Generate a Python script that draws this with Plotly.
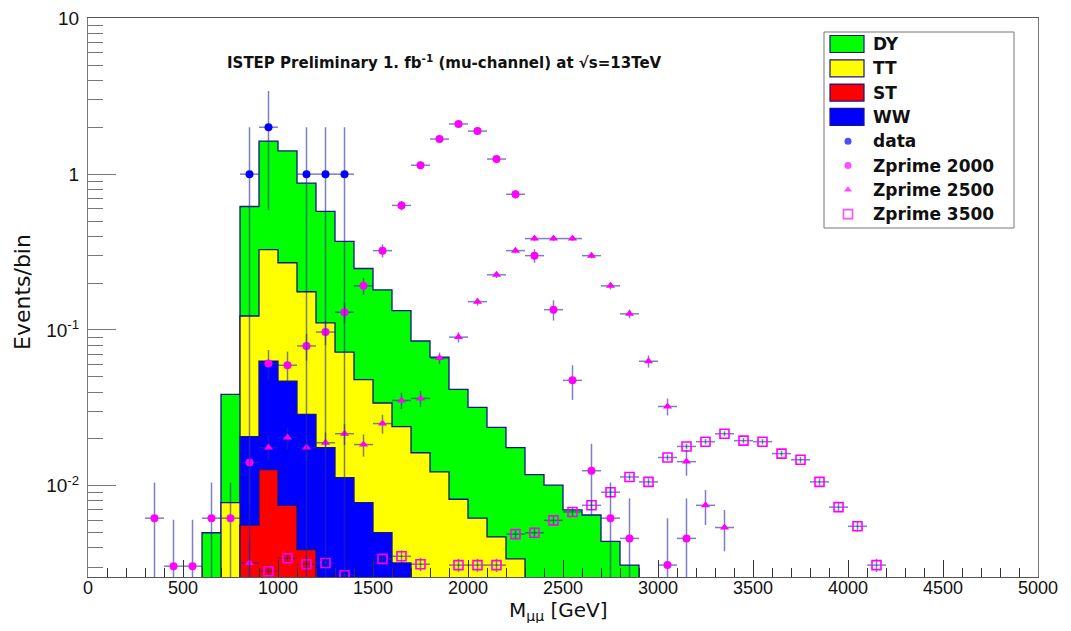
import numpy as np
import plotly.graph_objects as go

# ---------------- data ----------------
bin_width = 100.0
mass_bins = [650, 750, 850, 950, 1050, 1150, 1250, 1350, 1450, 1550, 1650, 1750,
             1850, 1950, 2050, 2150, 2250, 2350, 2450, 2550, 2650, 2750, 2850]

dy_vals = [0.0050, 0.0308, 0.497, 1.302, 1.14, 0.699, 0.466, 0.298, 0.200, 0.147, 0.109, 0.0687,
           0.0547, 0.0334, 0.0257, 0.0190, 0.0142, 0.0118, 0.0101, 0.0070, 0.0065, 0.0044, 0.0031]
tt_vals = [0.0, 0.0078, 0.1023, 0.265, 0.2231, 0.1473, 0.0934, 0.0607, 0.0402, 0.0290, 0.0208, 0.0163,
           0.0123, 0.0082, 0.0062, 0.0047, 0.0034, 0.0, 0.0, 0.0, 0.0, 0.0, 0.0]
ww_vals = [0.0, 0.0, 0.0151, 0.0503, 0.0394, 0.0248, 0.0176, 0.0113, 0.0078, 0.0050, 0.0032, 0.0,
           0.0, 0.0, 0.0, 0.0, 0.0, 0.0, 0.0, 0.0, 0.0, 0.0, 0.0]
st_vals = [0.0, 0.0, 0.0056, 0.0127, 0.0075, 0.0039, 0.0, 0.0, 0.0, 0.0, 0.0, 0.0,
           0.0, 0.0, 0.0, 0.0, 0.0, 0.0, 0.0, 0.0, 0.0, 0.0, 0.0]

data_mass = [850, 950, 1150, 1250, 1350]
data_vals = [1.0, 2.0, 1.0, 1.0, 1.0]
data_errs = [1.0, 1.414, 1.0, 1.0, 1.0]

zp2000_mass = [350, 450, 550, 650, 750, 850, 950, 1050, 1150, 1250, 1350, 1450, 1550, 1650,
               1750, 1850, 1950, 2050, 2150, 2250, 2350, 2450, 2550, 2650, 2750, 2850, 3050, 3150]
zp2000_vals = [0.0062, 0.00305, 0.00305, 0.0062, 0.0062, 0.0141, 0.061, 0.0594, 0.079, 0.097, 0.13,
               0.192, 0.323, 0.63, 1.14, 1.68, 2.10, 1.89, 1.25, 0.743, 0.30, 0.135, 0.0475,
               0.0125, 0.0062, 0.0046, 0.0031, 0.0046]
zp2000_errs = [0.0043, 0.0030, 0.0030, 0.0043, 0.0043, 0.0065, 0.0135, 0.0133, 0.0154, 0.0171, 0.0197,
               0.024, 0.0311, 0.0435, 0.0585, 0.071, 0.079, 0.075, 0.061, 0.047, 0.030, 0.020, 0.0119,
               0.0061, 0.0043, 0.0037, 0.0031, 0.0037]

zp2500_mass = [850, 950, 1050, 1150, 1250, 1350, 1450, 1550, 1650, 1750, 1850, 1950, 2050, 2150,
               2250, 2350, 2450, 2550, 2650, 2750, 2850, 2950, 3050, 3150, 3250, 3350]
zp2500_vals = [0.0032, 0.0176, 0.0204, 0.0176, 0.0189, 0.0216, 0.0184, 0.0251, 0.0353, 0.0364, 0.066,
               0.090, 0.152, 0.226, 0.323, 0.386, 0.386, 0.386, 0.30, 0.192, 0.127, 0.063, 0.0323,
               0.0143, 0.0075, 0.0054]
zp2500_errs = [0.0013, 0.0030, 0.0032, 0.0030, 0.0031, 0.0033, 0.0030, 0.0035, 0.0042, 0.0043, 0.0057,
               0.0067, 0.0087, 0.0106, 0.0127, 0.0139, 0.0139, 0.0139, 0.0122, 0.0098, 0.0080, 0.0056,
               0.0040, 0.0027, 0.0019, 0.0016]

zp3500_mass = [950, 1050, 1150, 1250, 1350, 1550, 1650, 1750, 1950, 2050, 2150, 2250, 2350, 2450,
               2550, 2650, 2750, 2850, 2950, 3050, 3150, 3250, 3350, 3450, 3550, 3650, 3750, 3850,
               3950, 4050, 4150]
zp3500_vals = [0.00283, 0.00343, 0.00314, 0.0032, 0.00267, 0.0034, 0.00353, 0.00314, 0.0031, 0.0031,
               0.0031, 0.0049, 0.0050, 0.0060, 0.0068, 0.0075, 0.0091, 0.0114, 0.0106, 0.0152, 0.0179,
               0.0192, 0.0216, 0.0195, 0.0192, 0.0161, 0.0147, 0.0106, 0.0073, 0.0055, 0.0031]
zp3500_errs = [0.00029, 0.00032, 0.00031, 0.00031, 0.00028, 0.00032, 0.00033, 0.00031, 0.00030, 0.00030,
               0.00030, 0.00038, 0.00039, 0.00042, 0.00045, 0.00047, 0.00052, 0.00058, 0.00056, 0.00068,
               0.00073, 0.00076, 0.00080, 0.00076, 0.00076, 0.00069, 0.00066, 0.00056, 0.00047, 0.00041,
               0.00030]

x_tick_vals = [0, 500, 1000, 1500, 2000, 2500, 3000, 3500, 4000, 4500, 5000]
y_tick_vals = [0.01, 0.1, 1, 10]
y_tick_text = ["10<sup>-2</sup>", "10<sup>-1</sup>", "1", "10"]

legend_fill_names = ["DY", "TT", "ST", "WW"]
legend_fill_colors = ["#00ff00", "#ffff00", "#ff0000", "#0000ff"]
legend_marker_names = ["data", "Zprime 2000", "Zprime 2500", "Zprime 3500"]

# ---------------- styling ----------------
FONT = "Liberation Sans, Arial, Helvetica, sans-serif"
WIDE = "DejaVu Sans, Verdana, sans-serif"
NAVY = "#14148c"
ERR = "rgba(40,40,160,0.6)"
MAG = "#ff00ff"
Y_MIN = 0.0026
Y_MAX = 10.0
FLOOR = 1e-5

# the page body has an 8px margin: figure is placed at (8, 8) in the window
OFF = 8
W, H = 1071 - 2 * OFF, 631 - 2 * OFF
# plot frame in window pixels
PX0, PX1, PY0, PY1 = 88, 1038, 18, 577
L, R = PX0 - OFF, (W + OFF) - PX1
T, B = PY0 - OFF, (H + OFF) - PY1


def px2paper(x, y):
    return (x - PX0) / (PX1 - PX0), (PY1 - y) / (PY1 - PY0)


def step_polygon(centers, heights, width, floor):
    xs, ys = [centers[0] - width / 2], [floor]
    for c, h in zip(centers, heights):
        hv = h if h > 0 else floor
        xs += [c - width / 2, c + width / 2]
        ys += [hv, hv]
    xs.append(centers[-1] + width / 2)
    ys.append(floor)
    xs.append(xs[0])
    ys.append(floor)
    return xs, ys


st = np.array(st_vals)
ww = np.array(ww_vals)
tt = np.array(tt_vals)
dy = np.array(dy_vals)
layers = [  # outermost first
    ("DY", st + ww + tt + dy, "#00ff00"),
    ("TT", st + ww + tt, "#ffff00"),
    ("WW", st + ww, "#0000ff"),
    ("ST", st, "#ff0000"),
]

fig = go.Figure()
for name, h, col in layers:
    xs, ys = step_polygon(mass_bins, h, bin_width, FLOOR)
    fig.add_trace(go.Scatter(
        x=xs, y=ys, mode="lines", fill="toself", fillcolor=col,
        line=dict(color=NAVY, width=1.3), name=name, showlegend=False, hoverinfo="skip"))


def point_trace(name, xs, ys, errs, symbol, color, size=8, line_w=0):
    return go.Scatter(
        x=xs, y=ys, mode="markers", name=name, showlegend=False,
        marker=dict(symbol=symbol, size=size, color=color, line=dict(width=line_w, color=color)),
        error_y=dict(type="data", array=errs, color=ERR, thickness=1.5, width=0),
        error_x=dict(type="constant", value=bin_width / 2, color=ERR, thickness=1.5, width=0),
    )


fig.add_trace(point_trace("Zprime 3500", zp3500_mass, zp3500_vals, zp3500_errs, "square-open", MAG, size=9, line_w=1.6))
fig.add_trace(point_trace("Zprime 2500", zp2500_mass, zp2500_vals, zp2500_errs, "triangle-up", MAG, size=8))
fig.add_trace(point_trace("Zprime 2000", zp2000_mass, zp2000_vals, zp2000_errs, "circle", MAG, size=8))
fig.add_trace(point_trace("data", data_mass, data_vals, data_errs, "circle", "#0000ff", size=8))

# ---------------- hand-drawn legend (ROOT TLegend look) ----------------
shapes = []
annotations = []
bx0, by0 = px2paper(824, 228)
bx1, by1 = px2paper(1014, 32)
shapes.append(dict(type="rect", xref="paper", yref="paper", x0=bx0, y0=by0, x1=bx1, y1=by1,
                   line=dict(color="#777777", width=1), fillcolor="white", layer="below"))
row_y = [44 + 24.3 * i for i in range(8)]
for i, (nm, col) in enumerate(zip(legend_fill_names, legend_fill_colors)):
    sx0, sy0 = px2paper(830, row_y[i] + 8.5)
    sx1, sy1 = px2paper(864, row_y[i] - 8.5)
    shapes.append(dict(type="rect", xref="paper", yref="paper", x0=sx0, y0=sy0, x1=sx1, y1=sy1,
                       line=dict(color=NAVY, width=1.2), fillcolor=col, layer="above"))
for i, nm in enumerate(legend_fill_names + legend_marker_names):
    tx, ty = px2paper(871, row_y[i])
    annotations.append(dict(text=nm, x=tx, y=ty, xref="paper", yref="paper", xanchor="left",
                            yanchor="middle", showarrow=False,
                            font=dict(family=WIDE, size=17, color="#111", weight="bold")))

# legend markers on an overlay pixel-coordinate axis
mk_y = row_y[4:]
fig.add_trace(go.Scatter(
    x=[848] * 4, y=mk_y, mode="markers", xaxis="x2", yaxis="y2", showlegend=False, hoverinfo="skip",
    marker=dict(symbol=["circle", "circle", "triangle-up", "square-open"], size=[7, 7, 7, 9],
                color=["#0000ff", MAG, MAG, MAG],
                line=dict(width=[0, 0, 0, 1.6], color=["#0000ff", MAG, MAG, MAG]))))

# title
tx, ty = px2paper(444, 62)
annotations.append(dict(
    text="ISTEP Preliminary 1. fb<sup>-1</sup> (mu-channel) at √s=13TeV",
    x=tx, y=ty, xref="paper", yref="paper", showarrow=False, xanchor="center", yanchor="middle",
    font=dict(family=WIDE, size=15, color="#111", weight="bold")))
# axis titles
ax, ay = px2paper(558, 596)
annotations.append(dict(text="M<sub>μμ</sub> [GeV]", x=ax, y=ay, xref="paper", yref="paper",
                        showarrow=False, xanchor="center", yanchor="top",
                        font=dict(family=WIDE, size=20, color="#111")))
ax, ay = px2paper(22, 292)
annotations.append(dict(text="Events/bin", x=ax, y=ay, xref="paper", yref="paper", textangle=-90,
                        showarrow=False, xanchor="center", yanchor="middle",
                        font=dict(family=WIDE, size=22, color="#111")))

# minor ticks of the log axis
minor_y = [m * 10.0 ** e for e in range(-3, 1) for m in range(2, 10) if Y_MIN <= m * 10.0 ** e <= Y_MAX]

fig.update_layout(
    width=W, height=H,
    margin=dict(l=L, r=R, t=T, b=B, autoexpand=False),
    paper_bgcolor="white", plot_bgcolor="white",
    font=dict(family=FONT, color="#111111"),
    showlegend=False,
    shapes=shapes,
    annotations=annotations,
    xaxis=dict(range=[0, 5000], tickmode="array", tickvals=x_tick_vals, automargin=False,
               ticks="inside", ticklen=17, tickwidth=1, tickcolor="#333",
               minor=dict(dtick=100, tick0=0, ticks="inside", ticklen=9, tickcolor="#333"),
               showline=True, linecolor="#555", linewidth=1, mirror=True,
               showgrid=False, zeroline=False, ticklabelstandoff=-6,
               tickfont=dict(family=FONT, size=18, color="#111")),
    yaxis=dict(type="log", range=[np.log10(Y_MIN), np.log10(Y_MAX) + 0.002], automargin=False,
               tickmode="array", tickvals=y_tick_vals, ticktext=y_tick_text,
               ticks="inside", ticklen=28, tickwidth=1, tickcolor="#777",
               minor=dict(tickmode="array", tickvals=minor_y, ticks="inside", ticklen=15, tickcolor="#777"),
               showline=True, linecolor="#777", linewidth=1, mirror=True,
               showgrid=False, zeroline=False, ticklabelstandoff=4, ticklabeloverflow="allow",
               tickfont=dict(family=FONT, size=19, color="#111")),
    xaxis2=dict(range=[PX0, PX1], overlaying="x", visible=False, anchor="y2", fixedrange=True),
    yaxis2=dict(range=[PY1, PY0], overlaying="y", visible=False, anchor="x2", fixedrange=True),
)

fig.write_html("out.html")
